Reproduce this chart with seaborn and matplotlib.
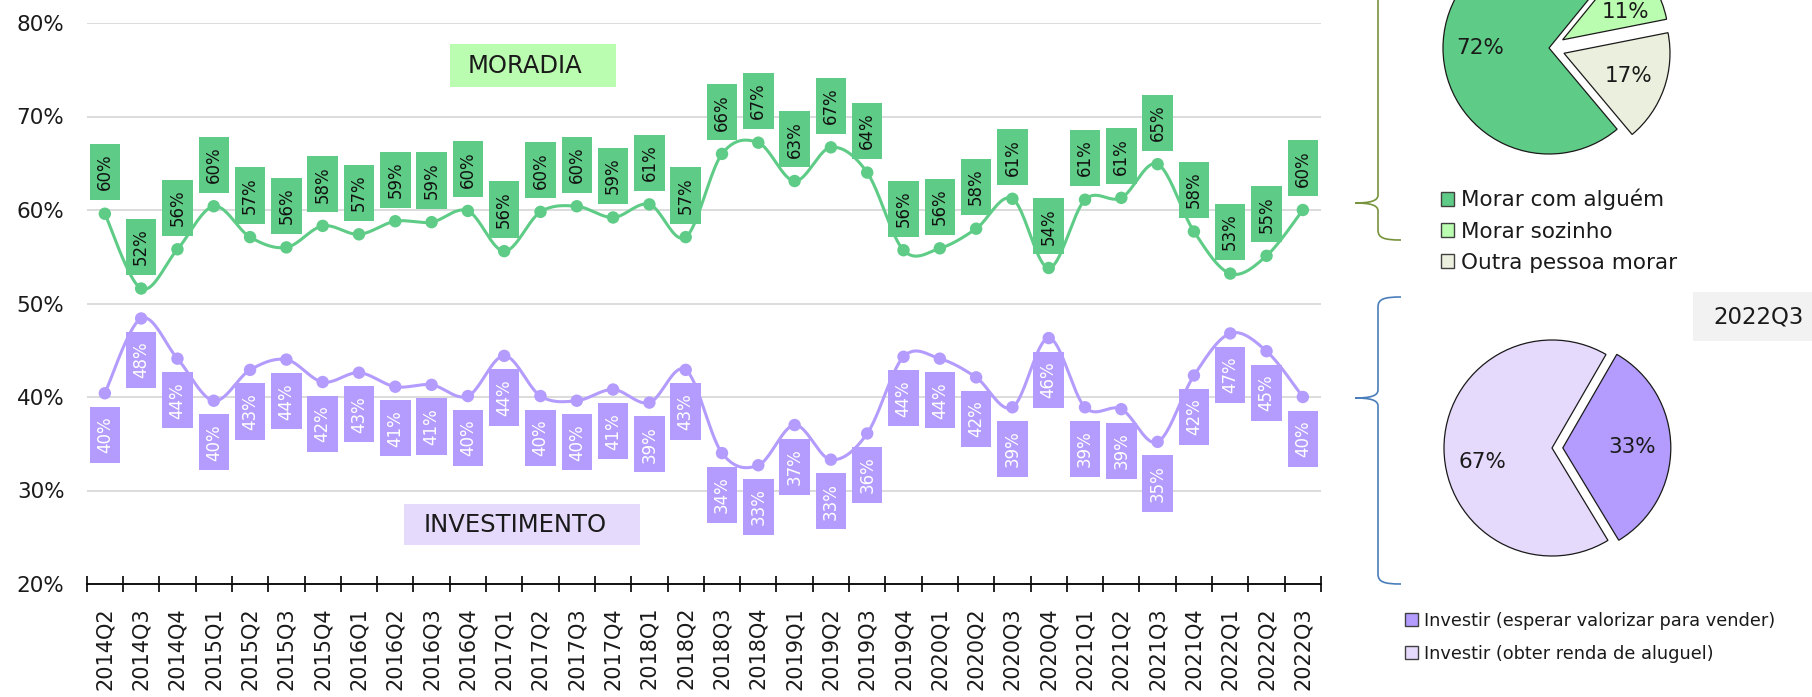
import numpy as np
import matplotlib
matplotlib.use("Agg")
import matplotlib.pyplot as plt
import seaborn as sns
from matplotlib.patches import Rectangle, PathPatch
from matplotlib.path import Path

quarters = ["2014Q2", "2014Q3", "2014Q4",
            "2015Q1", "2015Q2", "2015Q3", "2015Q4",
            "2016Q1", "2016Q2", "2016Q3", "2016Q4",
            "2017Q1", "2017Q2", "2017Q3", "2017Q4",
            "2018Q1", "2018Q2", "2018Q3", "2018Q4",
            "2019Q1", "2019Q2", "2019Q3", "2019Q4",
            "2020Q1", "2020Q2", "2020Q3", "2020Q4",
            "2021Q1", "2021Q2", "2021Q3", "2021Q4",
            "2022Q1", "2022Q2", "2022Q3"]

moradia = [59.6, 51.6, 55.8, 60.4, 57.1, 56.0, 58.3, 57.4, 58.8, 58.7, 59.9,
           55.6, 59.8, 60.4, 59.2, 60.6, 57.1, 66.0, 67.2, 63.1, 66.7, 64.0,
           55.7, 55.9, 58.0, 61.2, 53.8, 61.1, 61.3, 64.9, 57.7, 53.2, 55.1, 60.0]

investimento = [40.4, 48.4, 44.1, 39.6, 42.9, 44.0, 41.6, 42.6, 41.1, 41.3, 40.1,
                44.4, 40.1, 39.6, 40.8, 39.4, 42.9, 34.0, 32.7, 37.0, 33.3, 36.1,
                44.3, 44.1, 42.1, 38.9, 46.3, 38.9, 38.7, 35.2, 42.3, 46.8, 44.9, 40.0]

moradia_pie_labels = ["Morar com alguém", "Morar sozinho", "Outra pessoa morar"]
moradia_pie = [72, 11, 17]
invest_pie_labels = ["Investir (esperar valorizar para vender)",
                     "Investir (obter renda de aluguel)"]
invest_pie = [33, 67]
pie_period = "2022Q3"

GREEN = "#5ecc86"
PURPLE = "#b39cfd"
W, H = 1812, 697

sns.set_style("white")
plt.rcParams["font.family"] = ["DejaVu Sans"]
plt.rcParams["text.color"] = "#1a1a1a"


def smooth(y, n=24):
    # Excel-like smoothed line (Catmull-Rom bezier through the points)
    pts = np.column_stack([np.arange(len(y)), np.asarray(y, float)])
    out = []
    t = np.linspace(0, 1, n, endpoint=False)[:, None]
    for i in range(len(pts) - 1):
        p0 = pts[max(i - 1, 0)]
        p1, p2 = pts[i], pts[i + 1]
        p3 = pts[min(i + 2, len(pts) - 1)]
        c1 = p1 + (p2 - p0) / 6
        c2 = p2 - (p3 - p1) / 6
        out.append((1 - t) ** 3 * p1 + 3 * (1 - t) ** 2 * t * c1
                   + 3 * (1 - t) * t ** 2 * c2 + t ** 3 * p2)
    out.append(pts[-1:])
    return np.vstack(out)


fig = plt.figure(figsize=(W / 100, H / 100), dpi=100)
ax = fig.add_axes([86.7 / W, 1 - 584 / H, (1321 - 86.7) / W, (584 - 23) / H])

x = np.arange(len(quarters))
for vals, col in [(moradia, GREEN), (investimento, PURPLE)]:
    c = smooth(vals)
    sns.lineplot(x=c[:, 0], y=c[:, 1], sort=False, estimator=None, color=col,
                 linewidth=2.2, ax=ax, zorder=3)
    sns.scatterplot(x=x, y=vals, s=80, color=col, edgecolor="none", ax=ax, zorder=4)

# data labels in boxes
bw, bh, off = 0.84, 6.0, 4.45
for i, v in enumerate(moradia):
    ax.add_patch(Rectangle((i - bw / 2, v + off - bh / 2), bw, bh, facecolor=GREEN,
                           edgecolor="none", zorder=5))
    ax.text(i, v + off, f"{v:.0f}%", rotation=90, ha="center", va="center",
            fontsize=12, color="#111111", zorder=6)
for i, v in enumerate(investimento):
    ax.add_patch(Rectangle((i - bw / 2, v - off - bh / 2), bw, bh, facecolor=PURPLE,
                           edgecolor="none", zorder=5))
    ax.text(i, v - off, f"{v:.0f}%", rotation=90, ha="center", va="center",
            fontsize=12, color="white", zorder=6)

ax.set_xlim(-0.5, len(quarters) - 0.5)
ax.set_ylim(20, 80)
ax.set_yticks(range(20, 81, 10))
ax.set_yticklabels([f"{t}%" for t in range(20, 81, 10)])
ax.set_xticks(x)
ax.set_xticklabels(quarters, rotation=90)
ax.set_xticks(np.arange(-0.5, len(quarters)), minor=True)
ax.tick_params(axis="x", which="major", bottom=True, length=0, pad=16.5,
               labelsize=15, labelcolor="#1a1a1a")
ax.tick_params(axis="x", which="minor", bottom=True, length=11, width=1.2,
               direction="inout", color="black")
ax.tick_params(axis="y", length=0, pad=16, labelsize=15.5, labelcolor="#1a1a1a")
ax.set_xlabel("")
ax.set_ylabel("")
ax.grid(axis="y", color="#d9d9d9", linewidth=1.3)
ax.grid(axis="x", visible=False)
for s in ["top", "left", "right"]:
    ax.spines[s].set_visible(False)
ax.spines["bottom"].set_color("black")
ax.spines["bottom"].set_linewidth(1.3)
ax.spines["bottom"].set_zorder(7)
ax.set_axisbelow(True)

# pies
wp = dict(edgecolor="#1a1a1a", linewidth=0.9)
tp = dict(fontsize=15.5, color="#1a1a1a")

axp1 = fig.add_axes([1416.5 / W, 1 - 180.5 / H, 265 / W, 265 / H])
w1, _, at1 = axp1.pie(moradia_pie, colors=[GREEN, "#bbfdb0", "#ebefdd"],
                      explode=[0, 0.15, 0.15], startangle=-50, counterclock=False,
                      autopct=lambda p: f"{p:.0f}%", pctdistance=0.65,
                      wedgeprops=wp, textprops=tp)
px, py = at1[1].get_position()
at1[1].set_position((px + 0.04, py - 0.07))
axp1.set_xlim(-1.25, 1.25)
axp1.set_ylim(-1.25, 1.25)
axp1.set_aspect("equal")

axp2 = fig.add_axes([1417 / W, 1 - 583 / H, 270 / W, 270 / H])
w2, _, at2 = axp2.pie(invest_pie, colors=[PURPLE, "#e6dafc"],
                      explode=[0.1, 0], startangle=60, counterclock=False,
                      autopct=lambda p: f"{p:.0f}%", pctdistance=0.64,
                      wedgeprops=wp, textprops=tp)
px, py = at2[1].get_position()
at2[1].set_position((px, py - 0.12))
axp2.set_xlim(-1.25, 1.25)
axp2.set_ylim(-1.25, 1.25)
axp2.set_aspect("equal")

leg1 = fig.legend(w1, moradia_pie_labels, loc="upper left",
                  bbox_to_anchor=(1441 / W, 1 - 189 / H), frameon=False,
                  fontsize=15.5, handlelength=0.6, handleheight=0.6,
                  handletextpad=0.35, labelspacing=0.52, borderpad=0, borderaxespad=0)
leg2 = fig.legend(w2, invest_pie_labels, loc="upper left",
                  bbox_to_anchor=(1405 / W, 1 - 612 / H), frameon=False,
                  fontsize=12.8, handlelength=0.75, handleheight=0.75,
                  handletextpad=0.3, labelspacing=0.85, borderpad=0, borderaxespad=0)
for leg in (leg1, leg2):
    for h in leg.legend_handles:
        h.set_edgecolor("#404040")
        h.set_linewidth(1.0)

# overlay in pixel coordinates for braces and text boxes
ov = fig.add_axes([0, 0, 1, 1])
ov.set_xlim(0, W)
ov.set_ylim(H, 0)
ov.axis("off")


def brace(y0, ym, y1, color, xv=1378, xt=1355, xe=1401):
    verts = [(xe, y0), (xv + 6, y0), (xv, y0 + 2), (xv, y0 + 10),
             (xv, ym - 8),
             (xv, ym - 2), (xv - 8, ym), (xt, ym),
             (xv - 8, ym), (xv, ym + 2), (xv, ym + 8),
             (xv, y1 - 10),
             (xv, y1 - 2), (xv + 6, y1), (xe, y1)]
    codes = [Path.MOVETO, Path.CURVE4, Path.CURVE4, Path.CURVE4,
             Path.LINETO,
             Path.CURVE4, Path.CURVE4, Path.CURVE4,
             Path.CURVE4, Path.CURVE4, Path.CURVE4,
             Path.LINETO,
             Path.CURVE4, Path.CURVE4, Path.CURVE4]
    ov.add_patch(PathPatch(Path(verts, codes), facecolor="none", edgecolor=color, linewidth=1.2))


brace(-40, 203, 240, "#77933c")
brace(297, 398, 584, "#4a7ebb")

ov.add_patch(Rectangle((450, 44), 166, 43, facecolor="#bbfdb0", edgecolor="none"))
ov.text(468, 66, "MORADIA", ha="left", va="center", fontsize=17.5, color="#1a1a1a")
ov.add_patch(Rectangle((404, 504), 236, 41, facecolor="#e6dafc", edgecolor="none"))
ov.text(424, 525, "INVESTIMENTO", ha="left", va="center", fontsize=17.5, color="#1a1a1a")
ov.add_patch(Rectangle((1693, 292), 130, 49, facecolor="#f2f2f2", edgecolor="none"))
ov.text(1759, 317, pie_period, ha="center", va="center", fontsize=16.5, color="#1a1a1a")

fig.savefig("out.png", dpi=100)
